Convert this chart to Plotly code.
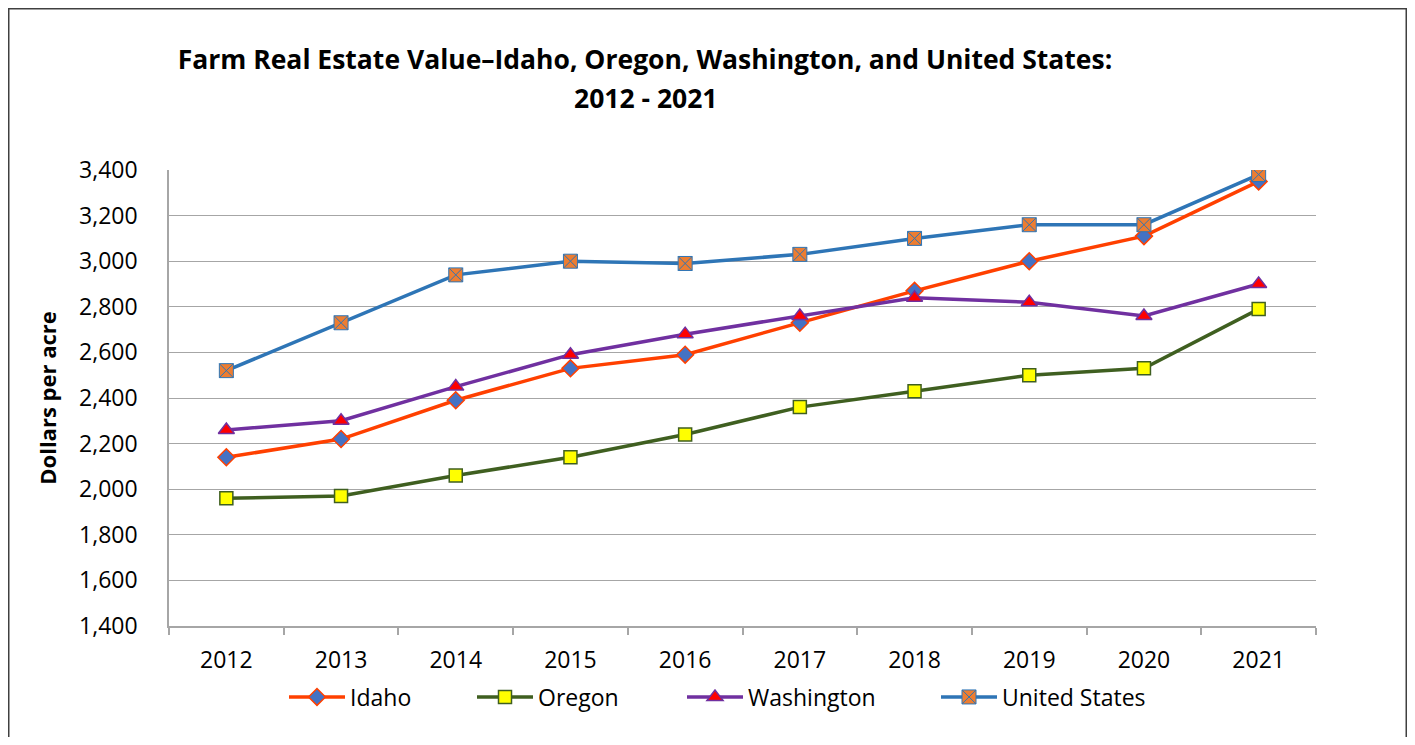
import plotly.graph_objects as go

years = ["2012", "2013", "2014", "2015", "2016", "2017", "2018", "2019", "2020", "2021"]
idaho = [2140, 2220, 2390, 2530, 2590, 2730, 2870, 3000, 3110, 3350]
oregon = [1960, 1970, 2060, 2140, 2240, 2360, 2430, 2500, 2530, 2790]
washington = [2260, 2300, 2450, 2590, 2680, 2760, 2840, 2820, 2760, 2900]
united_states = [2520, 2730, 2940, 3000, 2990, 3030, 3100, 3160, 3160, 3380]

FONT = "Open Sans"
W, H = 1399, 729          # page has an 8px body margin; keep page from overflowing
L, R, T, B = 161, 1308, 162, 618   # plot area in figure px
PW, PH = R - L, B - T

fig = go.Figure()
fig.add_trace(go.Scatter(
    x=years, y=idaho, name="Idaho", mode="lines+markers", legend="legend",
    line=dict(color="#FF4000", width=3.5),
    marker=dict(symbol="diamond", size=13, color="#4472C4", line=dict(color="#FF4000", width=1.5)),
))
fig.add_trace(go.Scatter(
    x=years, y=oregon, name="Oregon", mode="lines+markers", legend="legend2",
    line=dict(color="#3F5F20", width=3.5),
    marker=dict(symbol="square", size=13, color="#FFFF00", line=dict(color="#3F5F20", width=1.5)),
))
fig.add_trace(go.Scatter(
    x=years, y=washington, name="Washington", mode="lines+markers", legend="legend3",
    line=dict(color="#7030A0", width=3.5),
    marker=dict(symbol="triangle-up", size=14, color="#FF0000", line=dict(color="#7030A0", width=1.5)),
))
fig.add_trace(go.Scatter(
    x=years, y=united_states, name="United States", mode="lines+markers", legend="legend4",
    line=dict(color="#2E75B6", width=3.5),
    marker=dict(symbol="square-x", size=14, color="#ED7D31", line=dict(color="#2E75B6", width=1)),
))

def leg(xpx):
    return dict(
        orientation="h", x=xpx / W, xanchor="left", xref="container",
        y=1 - 689 / H, yanchor="middle", yref="container",
        font=dict(family=FONT, size=23, color="black"),
        itemwidth=56, bgcolor="rgba(0,0,0,0)", borderwidth=0,
    )

fig.update_layout(
    width=W, height=H,
    margin=dict(l=L, r=W - R, t=T, b=H - B, autoexpand=False),
    paper_bgcolor="white", plot_bgcolor="white",
    font=dict(family=FONT, color="black", size=22),
    title=dict(
        text="<b>Farm Real Estate Value–Idaho, Oregon, Washington, and United States:</b>",
        x=637 / W, xanchor="center", xref="container",
        y=1 - 52 / H, yanchor="middle", yref="container",
        font=dict(family=FONT, size=26.5, color="black"),
    ),
    showlegend=True,
    legend=leg(276),
    legend2=leg(464),
    legend3=leg(674),
    legend4=leg(928),
)

fig.add_annotation(
    text="<b>2012 - 2021</b>", xref="paper", yref="paper",
    x=(638 - L) / PW, y=(B - 90) / PH, xanchor="center", yanchor="middle",
    showarrow=False, font=dict(family=FONT, size=26.5, color="black"),
)

fig.update_xaxes(
    type="category", range=[-0.5, 9.5], automargin=False,
    showgrid=False, showline=True, linecolor="#A6A6A6", linewidth=1.5,
    ticks="outside", tickson="boundaries", ticklen=7, tickcolor="#A6A6A6", tickwidth=1.5,
    tickfont=dict(family=FONT, size=23, color="black"), ticklabelstandoff=13,
)
fig.update_yaxes(
    range=[1400, 3400], dtick=200, tickformat=",", automargin=False,
    showgrid=True, gridcolor="#A6A6A6", gridwidth=1.3,
    showline=True, linecolor="#A6A6A6", linewidth=1.5,
    ticks="", tickfont=dict(family=FONT, size=23, color="black"), ticklabelstandoff=25,
    title=dict(text="<b>Dollars per acre</b>", font=dict(family=FONT, size=22, color="black"), standoff=16),
    zeroline=False,
)

fig.add_shape(
    type="rect", xref="paper", yref="paper",
    x0=(0.75 - L) / PW, x1=(W - 0.75 - L) / PW,
    y0=(B - 760) / PH, y1=(B - 0.75) / PH,
    line=dict(color="#404040", width=1.5), fillcolor="rgba(0,0,0,0)", layer="below",
)

fig.write_html("out.html")
